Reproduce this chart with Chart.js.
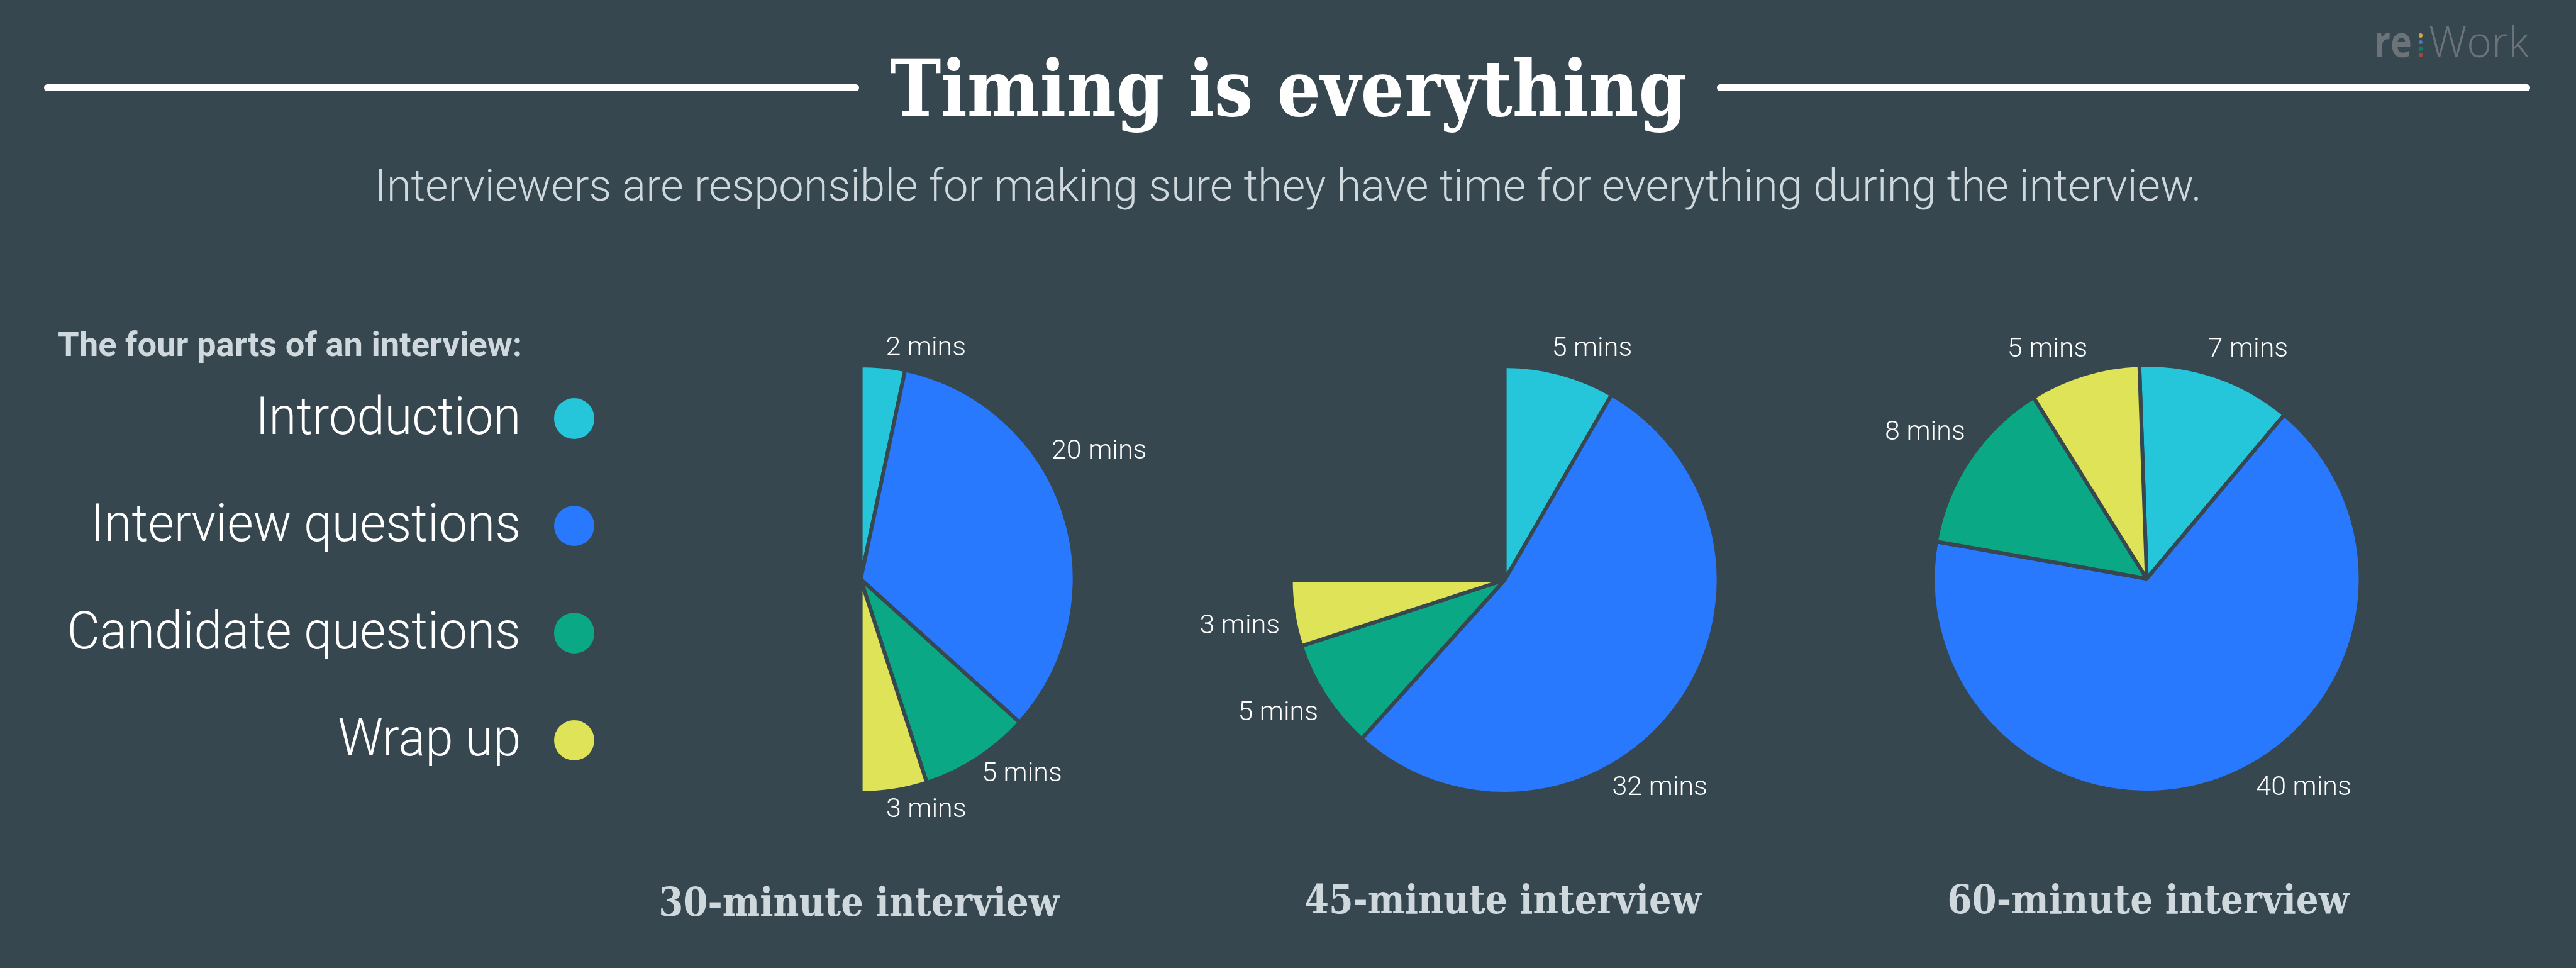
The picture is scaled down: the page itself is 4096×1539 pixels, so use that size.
<!DOCTYPE html>
<html>
<head>
<meta charset="utf-8">
<script src="https://cdn.jsdelivr.net/npm/chart.js@4.4.1/dist/chart.umd.min.js"></script>
<style>
html,body{margin:0;padding:0;background:#37474f;width:4096px;height:1539px;overflow:hidden;}
#stage{position:relative;width:4096px;height:1539px;background:#37474f;overflow:hidden;}
#stage canvas{position:absolute;left:0;top:0;}
.t{position:absolute;white-space:nowrap;line-height:1;}
.rule{position:absolute;background:#ffffff;}
.dot{position:absolute;border-radius:50%;}
</style>
</head>
<body>
<div id="stage"></div>
<script>
// ---------------- DATA ----------------
const categories = ['Introduction', 'Interview questions', 'Candidate questions', 'Wrap up'];
const interviewTitles = ['30-minute interview', '45-minute interview', '60-minute interview'];
const minutes30 = [2, 20, 5, 3];
const minutes45 = [5, 32, 5, 3];
const minutes60 = [7, 40, 8, 5];
const fullScaleMinutes = 60;           // a full circle = 60 minutes
const unitLabel = 'mins';
const titleText = 'Timing is everything';
const subtitleText = 'Interviewers are responsible for making sure they have time for everything during the interview.';
const legendHeading = 'The four parts of an interview:';

// ---------------- STYLE ----------------
const BG = '#37474f';
const sliceColors = ['#26c6da', '#2979ff', '#0ba885', '#dfe357'];
const W = 4096, H = 1539;
const stage = document.getElementById('stage');

// ---------------- TEXT HELPER ----------------
function placeText(txt, o) {
  const el = document.createElement('div');
  el.className = 't';
  el.style.font = (o.weight || 400) + ' ' + o.size + 'px ' + o.family;
  el.style.color = o.color;
  const inner = document.createElement('span');
  inner.textContent = txt;
  const mark = document.createElement('span');
  mark.style.cssText = 'display:inline-block;width:0;height:0;vertical-align:baseline;';
  el.appendChild(inner);
  el.appendChild(mark);
  el.style.left = '0px';
  el.style.top = '0px';
  stage.appendChild(el);
  const w = inner.getBoundingClientRect().width;
  const base = mark.getBoundingClientRect().top - el.getBoundingClientRect().top;
  const sx = o.width ? o.width / w : 1;
  let left = o.x;
  if (o.align === 'center') left = o.x - w / 2;
  else if (o.align === 'right') left = o.x - w;
  el.style.left = left + 'px';
  el.style.top = (o.y - base) + 'px';
  el.style.transformOrigin = (o.align === 'center' ? '50%' : o.align === 'right' ? '100%' : '0%') + ' 0';
  el.style.transform = 'scaleX(' + sx + ')';
  return el;
}
function rule(x1, x2, y, th) {
  const d = document.createElement('div');
  d.className = 'rule';
  d.style.left = x1 + 'px';
  d.style.top = (y - th / 2) + 'px';
  d.style.width = (x2 - x1) + 'px';
  d.style.height = th + 'px';
  d.style.borderRadius = (th / 2) + 'px';
  stage.appendChild(d);
}
function dot(cx, cy, r, color) {
  const d = document.createElement('div');
  d.className = 'dot';
  d.style.left = (cx - r) + 'px';
  d.style.top = (cy - r) + 'px';
  d.style.width = (2 * r) + 'px';
  d.style.height = (2 * r) + 'px';
  d.style.background = color;
  stage.appendChild(d);
}

// ---------------- HEADER ----------------
rule(70, 1366, 139.5, 10.6);
rule(2730, 4023, 139.5, 10.6);
placeText(titleText, {x: 2048, y: 184, align: 'center', size: 123, weight: 700,
  family: '"DejaVu Serif", serif', color: '#ffffff', width: 1267});
placeText(subtitleText, {x: 2048, y: 319, align: 'center', size: 70, weight: 300,
  family: 'Roboto, sans-serif', color: '#cfd8dc', width: 2905});

// logo re:Work
placeText('re', {x: 3775, y: 91, align: 'left', size: 69, weight: 700,
  family: '"Open Sans", sans-serif', color: '#6b7378', width: 60});
placeText('Work', {x: 3862, y: 91, align: 'left', size: 69, weight: 300,
  family: '"Open Sans", sans-serif', color: '#6b7378', width: 159});
['#d4a637', '#4a7ab4', '#0f7f5f', '#a5463a'].forEach((c, i) => dot(3849, 56.5 + i * 10.4, 3.4, c));

// ---------------- LEGEND ----------------
placeText(legendHeading, {x: 92, y: 566, align: 'left', size: 53, weight: 700,
  family: 'Roboto, sans-serif', color: '#cfd8dc', width: 738});
const legendWidths = [422, 684, 721, 291];
categories.forEach((c, i) => {
  const cy = 665.6 + i * 170.5;
  placeText(c, {x: 828, y: cy + 24.3, align: 'right', size: 83, weight: 300,
    family: 'Roboto, sans-serif', color: '#ffffff', width: legendWidths[i]});
  dot(913, cy, 32.3, sliceColors[i]);
});

// ---------------- PIES ----------------
function arcBox(rotDeg, circDeg) {
  const TAU = Math.PI * 2;
  if (circDeg >= 360) return {minX: -1, maxX: 1, minY: -1, maxY: 1};
  const s = (rotDeg - 90) * Math.PI / 180, e = s + circDeg * Math.PI / 180;
  const inArc = a => { const d = ((a - s) % TAU + TAU) % TAU; return d <= e - s + 1e-9 || d > TAU - 1e-9; };
  const sx = Math.cos(s), sy = Math.sin(s), ex = Math.cos(e), ey = Math.sin(e);
  return {
    maxX: inArc(0) ? 1 : Math.max(sx, ex, 0),
    maxY: inArc(Math.PI / 2) ? 1 : Math.max(sy, ey, 0),
    minX: inArc(Math.PI) ? -1 : Math.min(sx, ex, 0),
    minY: inArc(1.5 * Math.PI) ? -1 : Math.min(sy, ey, 0)
  };
}

const sliceLabelPlugin = {
  id: 'sliceLabels',
  afterDatasetsDraw(chart, args, opts) {
    const ctx = chart.ctx;
    const meta = chart.getDatasetMeta(0);
    const data = chart.data.datasets[0].data;
    ctx.save();
    ctx.font = '300 ' + opts.size + 'px Roboto';
    ctx.fillStyle = opts.color;
    ctx.textAlign = 'center';
    ctx.textBaseline = 'alphabetic';
    meta.data.forEach((arc, i) => {
      const p = arc.getProps(['x', 'y', 'outerRadius'], true);
      const pos = opts.positions[i];
      const a = pos[0] * Math.PI / 180;
      const tx = p.x + Math.sin(a) * pos[1] * p.outerRadius;
      const ty = p.y - Math.cos(a) * pos[1] * p.outerRadius;
      ctx.fillText(data[i] + ' ' + unitLabel, tx, ty + opts.size * 0.711 / 2);
    });
    ctx.restore();
  }
};

function makePie(values, center, R, rotation, labelPos) {
  const cv = document.createElement('canvas');
  cv.width = W; cv.height = H;
  stage.appendChild(cv);
  const circ = values.reduce((a, b) => a + b, 0) / fullScaleMinutes * 360;
  const b = arcBox(rotation, circ);
  return new Chart(cv, {
    type: 'pie',
    data: {
      labels: categories,
      datasets: [{
        data: values,
        backgroundColor: sliceColors,
        borderColor: BG,
        borderWidth: 6,
        rotation: rotation,
        circumference: circ,
        radius: R
      }]
    },
    options: {
      responsive: false,
      maintainAspectRatio: false,
      animation: false,
      devicePixelRatio: 1,
      events: [],
      rotation: rotation,
      circumference: circ,
      radius: R,
      layout: {padding: {
        left: center.x + b.minX * R,
        right: W - (center.x + b.maxX * R),
        top: center.y + b.minY * R,
        bottom: H - (center.y + b.maxY * R)
      }},
      plugins: {
        legend: {display: false},
        tooltip: {enabled: false},
        title: {display: false},
        sliceLabels: {positions: labelPos, size: 43, color: '#ffffff'}
      }
    },
    plugins: [sliceLabelPlugin]
  });
}

makePie(minutes30, {x: 1368.6, y: 921}, 340, 0,
  [[15.6, 1.134], [61.3, 1.271], [140, 1.173], [164, 1.111]]);
makePie(minutes45, {x: 2392.6, y: 922}, 340, 0,
  [[20.5, 1.166], [143, 1.205], [240, 1.224], [260.6, 1.256]]);
makePie(minutes60, {x: 3413.5, y: 920}, 340, -2,
  [[23.6, 1.182], [142.8, 1.214], [303.8, 1.248], [336.8, 1.179]]);

// ---------------- CAPTIONS ----------------
const captionX = [1365.5, 2389.5, 3416];
const captionY = [1456, 1452, 1452];
const captionW = [637, 631, 639];
interviewTitles.forEach((t, i) => {
  placeText(t, {x: captionX[i], y: captionY[i], align: 'center', size: 64, weight: 700,
    family: '"DejaVu Serif", serif', color: '#cfd8dc', width: captionW[i]});
});
</script>
</body>
</html>
